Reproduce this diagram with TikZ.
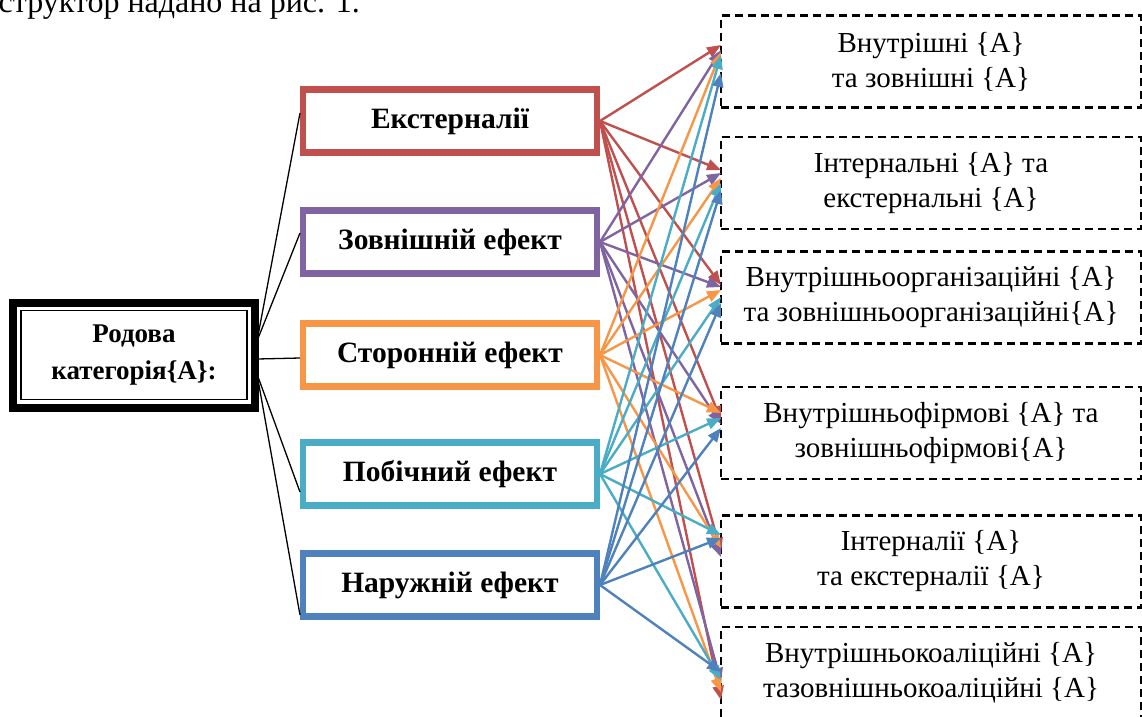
\documentclass[tikz,border=0pt]{standalone}
\usepackage{fontspec}
\setmainfont{Liberation Serif}
\usetikzlibrary{arrows.meta}
\definecolor{KatRed}{RGB}{192,80,77}
\definecolor{KatPurple}{RGB}{128,100,162}
\definecolor{KatOrange}{RGB}{247,150,70}
\definecolor{KatTeal}{RGB}{75,172,198}
\definecolor{KatBlue}{RGB}{79,129,189}

\begin{document}
\begin{tikzpicture}[x=1pt,y=-1pt,
  rodbox/.style={draw,line width=1.5pt,outer sep=0pt,minimum width=226pt,minimum height=89pt,align=center,font=\bfseries\fontsize{27}{37}\selectfont},
  efbox/.style={draw=#1,line width=6.5pt,outer sep=0pt,minimum width=294pt,minimum height=63pt,font=\bfseries\fontsize{29.5}{34}\selectfont},
  vidbox/.style={draw,dash pattern=on 8pt off 5pt,line width=2.2pt,outer sep=0pt,minimum width=420pt,minimum height=92pt,align=center,font=\fontsize{29}{35}\selectfont},
  lnk/.style={line width=1.3pt},
  arr/.style={draw=#1,line width=2.4pt,-{Triangle[length=14pt,width=11pt]}}]
\useasboundingbox (0,0) rectangle (1142,716);
% cut line of the text above
\node[anchor=base east,inner sep=0pt,font=\fontsize{32}{38}\selectfont] (txt) at (360,12) {структор надано на рис. 1.};
% generic category
\node[rodbox] (r0) at (134,355) {Родова\\категорія\{A\}:};
\draw[line width=8pt] ([xshift=-8pt,yshift=8pt]r0.north west) rectangle ([xshift=8pt,yshift=-8pt]r0.south east);
% effects
\node[efbox=KatRed] (m1) at (450,121) {Екстерналії};
\node[efbox=KatPurple] (m2) at (450,242) {Зовнішній ефект};
\node[efbox=KatOrange] (m3) at (450,355) {Сторонній ефект};
\node[efbox=KatTeal] (m4) at (450,474) {Побічний ефект};
\node[efbox=KatBlue] (m5) at (450,585) {Наружній ефект};
% kinds
\node[vidbox] (v1) at (931,61.5) {Внутрішні \{A\}\\та зовнішні \{A\}};
\node[vidbox] (v2) at (931,183) {Інтернальні \{A\} та\\екстернальні \{A\}};
\node[vidbox] (v3) at (931,297.5) {Внутрішньоорганізаційні \{A\}\\та зовнішньоорганізаційні\{A\}};
\node[vidbox] (v4) at (931,433) {Внутрішньофірмові \{A\} та\\зовнішньофірмові\{A\}};
\node[vidbox] (v5) at (931,561.5) {Інтерналії \{A\}\\та екстерналії \{A\}};
\node[vidbox] (v6) at (931,673) {Внутрішньокоаліційні \{A\}\\тазовнішньокоаліційні \{A\}};
% links
\foreach \m/\a/\b in {m1/14/8,m2/14/9,m3/-4/-3,m4/-19/-18,m5/-19/-30} {
  \draw[lnk] ([xshift=10pt,yshift=\a pt]r0.east) -- ([xshift=-3pt,yshift=\b pt]\m.west);
}
\foreach \m/\c/\offs in %
{m1/KatRed/{16.5,13,12.5,13,9.5,-27},m2/KatPurple/{11.5,10,10.5,9,4.5,-9},m3/KatOrange/{9.5,5,7.5,20,13.5,-19},m4/KatTeal/{6.5,0,0.5,15,26.5,-7},m5/KatBlue/{-11.5,-7,-5.5,5,23.5,1}} {
  \foreach \o [count=\k] in \offs {
    \draw[arr=\c] ([xshift=3pt]\m.east) -- ([yshift=\o pt]v\k.west);
  }
}
\end{tikzpicture}
\end{document}
